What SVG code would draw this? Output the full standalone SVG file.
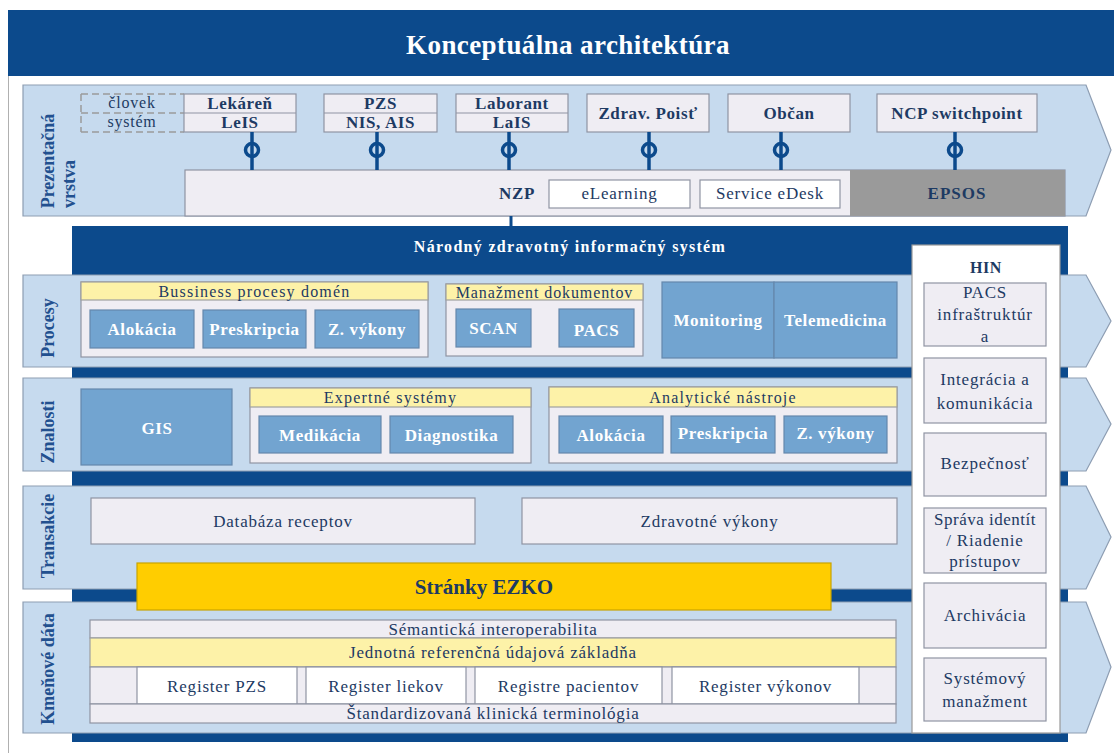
<svg xmlns="http://www.w3.org/2000/svg" width="1114" height="753" viewBox="0 0 1114 753" font-family="'Liberation Serif', 'Times New Roman', serif">
<style>
text{font-family:'Liberation Serif','Times New Roman',serif}
.band{fill:#c6daee;stroke:#8d9db2;stroke-width:1.2}
.dk{fill:#0c4a8c}
.lav{fill:#efedf3;stroke:#8f94a3;stroke-width:1.2}
.wht{fill:#ffffff;stroke:#8f94a3;stroke-width:1.2}
.mb{fill:#72a4d0;stroke:#6588ac;stroke-width:1.2}
.yel{fill:#fdf2a8;stroke:#9fa0a0;stroke-width:1.2}
.lbl{font-family:'Liberation Serif',serif;font-size:18px;font-weight:bold;fill:#22508f;text-anchor:middle}
.t{font-family:'Liberation Serif',serif;font-size:17px;fill:#1d3a63;text-anchor:middle;letter-spacing:0.8px}
.h{font-family:'Liberation Serif',serif;font-size:16px;fill:#1d3a63;text-anchor:middle;letter-spacing:1.2px}
.bw{font-family:'Liberation Serif',serif;font-size:17px;font-weight:bold;fill:#ffffff;text-anchor:middle;letter-spacing:0.6px}
.bd{font-family:'Liberation Serif',serif;font-size:17px;font-weight:bold;fill:#1d3a63;text-anchor:middle;letter-spacing:0.6px}
.lol{stroke:#0c4a8c;stroke-width:3.5;fill:none}
.dash{stroke:#9a9a9a;stroke-width:1.5;stroke-dasharray:7 4;fill:none}
</style>

<rect x="8.5" y="10.5" width="1110" height="745" fill="#ffffff" stroke="#b0b0b0"/>

<g id="title">
<rect x="8" y="10" width="1106" height="66" class="dk"/>
<text x="568" y="54" font-family="'Liberation Serif', serif" style="font-size:27px;font-weight:bold;fill:#ffffff;text-anchor:middle;letter-spacing:0.4px">Konceptuálna architektúra</text>
</g>

<g id="prezentacna-vrstva">
<polygon class="band" points="23,85 1086,85 1111,150 1086,216 23,216"/>
<text class="lbl" transform="translate(54,161) rotate(-90)">Prezentačná</text>
<text class="lbl" transform="translate(75,184) rotate(-90)">vrstva</text>
</g>

<g id="legenda">
<line class="dash" x1="81" y1="94" x2="184" y2="94"/>
<line class="dash" x1="81" y1="113" x2="184" y2="113"/>
<line class="dash" x1="81" y1="132" x2="184" y2="132"/>
<line class="dash" x1="81" y1="94" x2="81" y2="132"/>
<text class="t" x="132" y="108" style="font-size:16px">človek</text>
<text class="t" x="132" y="127" style="font-size:16px">systém</text>
</g>

<g id="lekaren">
<rect class="lav" x="184" y="94" width="112" height="38"/>
<line x1="184" y1="113" x2="296" y2="113" stroke="#8f94a3" stroke-width="1.2"/>
<text class="bd" x="240" y="109">Lekáreň</text>
<text class="bd" x="240" y="128">LeIS</text>
</g>
<g id="pzs">
<rect class="lav" x="324" y="94" width="113" height="38"/>
<line x1="324" y1="113" x2="437" y2="113" stroke="#8f94a3" stroke-width="1.2"/>
<text class="bd" x="380.5" y="109">PZS</text>
<text class="bd" x="380.5" y="128">NIS, AIS</text>
</g>
<g id="laborant">
<rect class="lav" x="456" y="94" width="112" height="38"/>
<line x1="456" y1="113" x2="568" y2="113" stroke="#8f94a3" stroke-width="1.2"/>
<text class="bd" x="512" y="109">Laborant</text>
<text class="bd" x="512" y="128">LaIS</text>
</g>
<g id="zdrav-poist">
<rect class="lav" x="587" y="94" width="122" height="38"/>
<text class="bd" x="648" y="119">Zdrav. Poisť</text>
</g>
<g id="obcan">
<rect class="lav" x="728" y="94" width="122" height="38"/>
<text class="bd" x="789" y="119">Občan</text>
</g>
<g id="ncp">
<rect class="lav" x="877" y="94" width="160" height="38"/>
<text class="bd" x="957" y="119">NCP switchpoint</text>
</g>

<g id="nzp">
<rect class="lav" x="185" y="170" width="880" height="46"/>
<text class="bd" x="517" y="199">NZP</text>
</g>
<g id="elearning">
<rect class="wht" x="549" y="180" width="141" height="28"/>
<text class="t" x="619.5" y="199">eLearning</text>
</g>
<g id="service-edesk">
<rect class="wht" x="700" y="180" width="140" height="28"/>
<text class="t" x="770" y="199">Service eDesk</text>
</g>
<g id="epsos">
<rect x="850" y="170" width="215" height="46" fill="#9a9a9a"/>
<text class="bd" x="957" y="199" style="letter-spacing:1px">EPSOS</text>
</g>

<g id="nzis">
<rect x="72" y="226" width="996" height="516" class="dk"/>
<text x="570" y="252" font-family="'Liberation Serif', serif" style="font-size:16px;font-weight:bold;fill:#ffffff;text-anchor:middle;letter-spacing:1.3px">Národný zdravotný informačný systém</text>
</g>

<g id="connectors">
<line class="lol" x1="252" y1="132" x2="252" y2="170"/>
<circle class="lol" cx="252" cy="150" r="6.5" fill="#ffffff"/>
<line class="lol" x1="377" y1="132" x2="377" y2="170"/>
<circle class="lol" cx="377" cy="150" r="6.5" fill="#ffffff"/>
<line class="lol" x1="509" y1="132" x2="509" y2="170"/>
<circle class="lol" cx="509" cy="150" r="6.5" fill="#ffffff"/>
<line class="lol" x1="649" y1="132" x2="649" y2="170"/>
<circle class="lol" cx="649" cy="150" r="6.5" fill="#ffffff"/>
<line class="lol" x1="781" y1="132" x2="781" y2="170"/>
<circle class="lol" cx="781" cy="150" r="6.5" fill="#ffffff"/>
<line class="lol" x1="955" y1="132" x2="955" y2="170"/>
<circle class="lol" cx="955" cy="150" r="6.5" fill="#ffffff"/>
<line x1="511" y1="216" x2="511" y2="227" stroke="#0c4a8c" stroke-width="3"/>
</g>

<g id="procesy">
<polygon class="band" points="23,275 1086,275 1111,321 1086,367 23,367"/>
<text class="lbl" transform="translate(54,328) rotate(-90)">Procesy</text>
</g>
<g id="bussiness-procesy">
<rect class="lav" x="81" y="282" width="347" height="75"/>
<rect class="yel" x="81" y="282" width="347" height="18"/>
<text class="h" x="254.5" y="297">Bussiness procesy domén</text>
</g>
<g id="p-alokacia"><rect class="mb" x="90" y="310" width="104" height="38"/><text class="bw" x="142" y="335">Alokácia</text></g>
<g id="p-preskripcia"><rect class="mb" x="203" y="310" width="103" height="38"/><text class="bw" x="254.5" y="335">Preskripcia</text></g>
<g id="p-zvykony"><rect class="mb" x="315" y="310" width="104" height="38"/><text class="bw" x="367" y="335">Z. výkony</text></g>
<g id="manazment-dokumentov">
<rect class="lav" x="446" y="284" width="197" height="72"/>
<rect class="yel" x="446" y="284" width="197" height="16"/>
<text class="h" x="544.5" y="298" style="letter-spacing:0.9px">Manažment dokumentov</text>
</g>
<g id="scan"><rect class="mb" x="456" y="309" width="75" height="38"/><text class="bw" x="493.5" y="334">SCAN</text></g>
<g id="pacs"><rect class="mb" x="559" y="309" width="75" height="38"/><text class="bw" x="596.5" y="336">PACS</text></g>
<g id="monitoring"><rect class="mb" x="662" y="282" width="112" height="76"/><text class="bw" x="718" y="326">Monitoring</text></g>
<g id="telemedicina"><rect class="mb" x="774" y="282" width="123" height="76"/><text class="bw" x="835.5" y="326">Telemedicina</text></g>

<g id="znalosti">
<polygon class="band" points="23,378 1086,378 1111,424 1086,471 23,471"/>
<text class="lbl" transform="translate(54,432) rotate(-90)">Znalosti</text>
</g>
<g id="gis"><rect class="mb" x="81" y="389" width="151" height="76"/><text class="bw" x="157" y="434">GIS</text></g>
<g id="expertne-systemy">
<rect class="lav" x="250" y="388" width="281" height="75"/>
<rect class="yel" x="250" y="388" width="281" height="19"/>
<text class="h" x="390.5" y="403">Expertné systémy</text>
</g>
<g id="medikacia"><rect class="mb" x="259" y="416" width="122" height="37"/><text class="bw" x="320" y="441">Medikácia</text></g>
<g id="diagnostika"><rect class="mb" x="390" y="416" width="123" height="37"/><text class="bw" x="451.5" y="441">Diagnostika</text></g>
<g id="analyticke-nastroje">
<rect class="lav" x="549" y="387" width="348" height="76"/>
<rect class="yel" x="549" y="387" width="348" height="20"/>
<text class="h" x="723" y="403">Analytické nástroje</text>
</g>
<g id="z-alokacia"><rect class="mb" x="559" y="416" width="104" height="37"/><text class="bw" x="611" y="441">Alokácia</text></g>
<g id="z-preskripcia"><rect class="mb" x="671" y="416" width="104" height="37"/><text class="bw" x="723" y="439">Preskripcia</text></g>
<g id="z-zvykony"><rect class="mb" x="784" y="416" width="103" height="37"/><text class="bw" x="835.5" y="439">Z. výkony</text></g>

<g id="transakcie">
<polygon class="band" points="23,486 1086,486 1111,537 1086,589 23,589"/>
<text class="lbl" transform="translate(54,536) rotate(-90)">Transakcie</text>
</g>
<g id="databaza-receptov"><rect class="lav" x="91" y="498" width="384" height="46"/><text class="t" x="283" y="527">Databáza receptov</text></g>
<g id="zdravotne-vykony"><rect class="lav" x="522" y="498" width="375" height="46"/><text class="t" x="709.5" y="527">Zdravotné výkony</text></g>

<g id="kmenove-data">
<polygon class="band" points="23,602 1086,602 1111,667 1086,733 23,733"/>
<text class="lbl" transform="translate(54,669) rotate(-90)">Kmeňové dáta</text>
</g>
<g id="semanticka"><rect class="lav" x="90" y="620" width="806" height="18"/><text class="t" x="493" y="635">Sémantická interoperabilita</text></g>
<g id="jednotna"><rect class="yel" x="90" y="638" width="806" height="29"/><text class="t" x="493" y="658">Jednotná referenčná údajová základňa</text></g>
<g id="registre-riadok"><rect class="lav" x="90" y="667" width="806" height="37"/></g>
<g id="register-pzs"><rect class="wht" x="137" y="667" width="160" height="37"/><text class="t" x="217" y="692">Register PZS</text></g>
<g id="register-liekov"><rect class="wht" x="306" y="667" width="160" height="37"/><text class="t" x="386" y="692">Register liekov</text></g>
<g id="registre-pacientov"><rect class="wht" x="475" y="667" width="187" height="37"/><text class="t" x="568.5" y="692">Registre pacientov</text></g>
<g id="register-vykonov"><rect class="wht" x="672" y="667" width="187" height="37"/><text class="t" x="765.5" y="692">Register výkonov</text></g>
<g id="standardizovana"><rect class="lav" x="90" y="704" width="806" height="19"/><text class="t" x="493" y="719">Štandardizovaná klinická terminológia</text></g>

<g id="ezko">
<rect x="137" y="563" width="694" height="47" fill="#ffcd00" stroke="#c9a400" stroke-width="1.2"/>
<text x="484" y="594" font-family="'Liberation Serif', serif" style="font-size:21px;font-weight:bold;fill:#1d3a63;text-anchor:middle">Stránky EZKO</text>
</g>

<g id="hin">
<rect x="912" y="245" width="148" height="488" fill="#ffffff" stroke="#9a9a9a" stroke-width="1.2"/>
<text class="bd" x="986" y="273" style="font-size:16px">HIN</text>
</g>
<g id="pacs-infra"><rect class="lav" x="924" y="283" width="122" height="63"/>
<text class="t" x="985" y="298">PACS</text><text class="t" x="985" y="320">infraštruktúr</text><text class="t" x="985" y="342">a</text></g>
<g id="integracia"><rect class="lav" x="924" y="358" width="122" height="65"/>
<text class="t" x="985" y="385">Integrácia a</text><text class="t" x="985" y="409">komunikácia</text></g>
<g id="bezpecnost"><rect class="lav" x="924" y="433" width="122" height="63"/>
<text class="t" x="985" y="469">Bezpečnosť</text></g>
<g id="sprava-identit"><rect class="lav" x="924" y="508" width="122" height="65"/>
<text class="t" x="985" y="525" style="letter-spacing:0.5px">Správa identít</text><text class="t" x="985" y="546">/ Riadenie</text><text class="t" x="985" y="567">prístupov</text></g>
<g id="archivacia"><rect class="lav" x="924" y="583" width="122" height="65"/>
<text class="t" x="985" y="621">Archivácia</text></g>
<g id="systemovy-manazment"><rect class="lav" x="924" y="658" width="122" height="63"/>
<text class="t" x="985" y="684">Systémový</text><text class="t" x="985" y="707">manažment</text></g>
</svg>
